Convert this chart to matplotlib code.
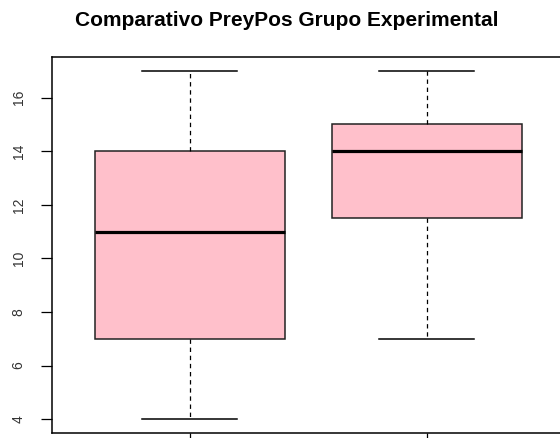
import matplotlib
matplotlib.use("Agg")
import matplotlib.pyplot as plt

# Data
groups = ["Pre", "Pos"]
mins = [4, 7]
q1s = [7, 11.5]
medians = [11, 14]
q3s = [14, 15]
maxs = [17, 17]
yticks = [4, 6, 8, 10, 12, 14, 16]

plt.rcParams['font.family'] = ['Liberation Sans', 'DejaVu Sans']

fig = plt.figure(figsize=(5.6, 4.38), dpi=100)
ax = fig.add_axes([52 / 560, (438 - 433) / 438, 512.5 / 560, 376 / 438])

stats = []
for g, lo, a, m, b, hi in zip(groups, mins, q1s, medians, q3s, maxs):
    stats.append(dict(label=g, whislo=lo, q1=a, med=m, q3=b, whishi=hi, fliers=[]))

positions = list(range(1, len(groups) + 1))
ax.bxp(stats, positions=positions, widths=0.8, patch_artist=True, showfliers=False,
       boxprops=dict(facecolor="#FFC0CB", edgecolor="#222222", linewidth=1.1),
       medianprops=dict(color="black", linewidth=2.3, solid_capstyle="butt"),
       whiskerprops=dict(color="black", linewidth=0.9, linestyle=(0, (3.5, 3))),
       capprops=dict(color="black", linewidth=1.1),
       capwidths=0.4)

ymin, ymax = min(mins), max(maxs)
pad = (ymax - ymin) * 0.04
ax.set_ylim(ymin - pad, ymax + pad)
ax.set_xlim(0.5 - 0.08, len(groups) + 0.5 + 0.08)

ax.set_yticks(yticks)
ax.set_yticklabels([str(t) for t in yticks], rotation=90, va="center",
                   fontsize=10, color="#333333")
ax.set_xticks(positions)
ax.set_xticklabels(["" for _ in groups])
ax.tick_params(axis="both", length=8, width=0.9, color="black")
ax.tick_params(axis="y", pad=11)

for s in ax.spines.values():
    s.set_linewidth(1.1)
    s.set_color("black")

fig.text(287 / 560, 1 - 26 / 438, "Comparativo PreyPos Grupo Experimental",
         ha="center", va="baseline", fontsize=15, fontweight="bold")

fig.savefig("out.png", dpi=100)
